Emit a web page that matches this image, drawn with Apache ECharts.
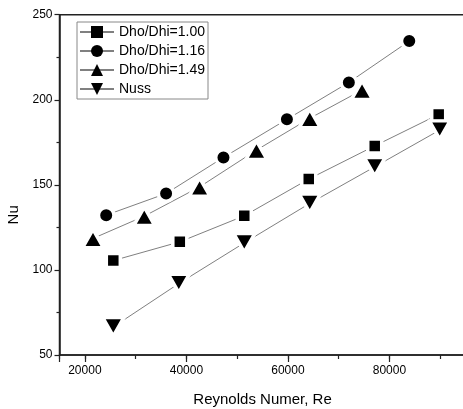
<!DOCTYPE html>
<html>
<head>
<meta charset="utf-8">
<script src="https://cdn.jsdelivr.net/npm/echarts@6/dist/echarts.min.js"></script>
<style>
  html, body { margin: 0; padding: 0; background: #fff; }
  #main { width: 463px; height: 409px; }
</style>
</head>
<body>
<div id="main"></div>
<script>
// values
var re100 = [25600, 38700, 51400, 64100, 77100, 89700];
var nu100 = [105.5, 116.5, 131.8, 153.4, 172.9, 191.4];
var re116 = [24200, 36000, 47300, 59800, 72000, 83900];
var nu116 = [132.2, 144.9, 166.1, 188.5, 210.2, 234.5];
var re149 = [21600, 31700, 42600, 53800, 64300, 74600];
var nu149 = [118.5, 131.6, 148.8, 170.4, 189.1, 205.7];
var reNuss = [25600, 38500, 51400, 64300, 77100, 89900];
var nuNuss = [66.5, 92.0, 115.9, 139.1, 160.6, 182.2];

var seriesNames = ['Dho/Dhi=1.00', 'Dho/Dhi=1.16', 'Dho/Dhi=1.49', 'Nuss'];
var xLabels = [20000, 40000, 60000, 80000];

var font = 'Arial, "Liberation Sans", sans-serif';

function pairs(xs, ys) {
  return xs.map(function (x, i) { return [x, ys[i]]; });
}

// white border makes the small gap between line and marker
function makeSeries(name, data, symbol, size, rotate) {
  return {
    name: name,
    type: 'line',
    data: data,
    symbol: symbol,
    symbolSize: size,
    symbolRotate: rotate || 0,
    showAllSymbol: true,
    itemStyle: { color: '#000', borderColor: '#fff', borderWidth: 3.5, borderJoin: 'round' },
    lineStyle: { color: '#808080', width: 1 },
    emphasis: { disabled: true },
    animation: false
  };
}

var myChart = echarts.init(document.getElementById('main'));

var option = {
  backgroundColor: '#fff',
  textStyle: { fontFamily: font },
  grid: {
    left: 59.5, right: -2.6, top: 14.7, bottom: 54,
    show: true, borderColor: '#222', borderWidth: 1.5,
    outerBoundsMode: 'none'
  },
  legend: {
    orient: 'vertical',
    left: 77, top: 22,
    padding: [3, 3, 3, 2],
    itemGap: 5,
    itemWidth: 34,
    itemHeight: 15,
    borderColor: '#888',
    borderWidth: 1,
    itemStyle: { borderWidth: 0 },
    textStyle: { fontSize: 14, color: '#000', fontFamily: font },
    data: seriesNames
  },
  xAxis: [{
    // ticks every 10000 (short)
    type: 'value',
    min: 15000, max: 95000,
    splitNumber: 8,
    name: 'Reynolds Numer, Re',
    nameLocation: 'middle',
    nameGap: 37,
    nameTextStyle: { fontSize: 15, color: '#000', fontFamily: font },
    axisLine: { onZero: false, lineStyle: { color: '#222', width: 1.5 } },
    axisTick: { show: true, length: 4, lineStyle: { color: '#222', width: 1.2 } },
    axisLabel: {
      margin: 10, fontSize: 12, color: '#000', fontFamily: font,
      formatter: function (v) { return xLabels.indexOf(v) >= 0 ? String(v) : ''; }
    },
    splitLine: { show: false }
  }, {
    // ticks every 20000 (long)
    type: 'value',
    position: 'bottom',
    min: 15000, max: 95000,
    splitNumber: 4,
    axisLine: { show: false, onZero: false },
    axisTick: { show: true, length: 7, lineStyle: { color: '#222', width: 1.2 } },
    axisLabel: { show: false },
    splitLine: { show: false }
  }],
  yAxis: {
    type: 'value',
    min: 50, max: 250, interval: 50,
    name: 'Nu',
    nameLocation: 'middle',
    nameRotate: 90,
    nameGap: 30,
    nameTextStyle: { fontSize: 15, color: '#000', fontFamily: font, padding: [0, 60, 0, 0] },
    axisLine: { onZero: false, lineStyle: { color: '#222', width: 1.5 } },
    axisTick: { length: 5, lineStyle: { color: '#222', width: 1.2 } },
    minorTick: { show: true, splitNumber: 2, length: 3, lineStyle: { color: '#222', width: 1.2 } },
    axisLabel: { margin: 7, fontSize: 12, color: '#000', fontFamily: font },
    splitLine: { show: false }
  },
  series: [
    makeSeries(seriesNames[0], pairs(re100, nu100), 'rect', 14),
    makeSeries(seriesNames[1], pairs(re116, nu116), 'circle', 15.5),
    makeSeries(seriesNames[2], pairs(re149, nu149), 'triangle', [21, 18.5]),
    makeSeries(seriesNames[3], pairs(reNuss, nuNuss), 'triangle', [21, 18.5], 180)
  ]
};

myChart.setOption(option);
</script>
</body>
</html>
